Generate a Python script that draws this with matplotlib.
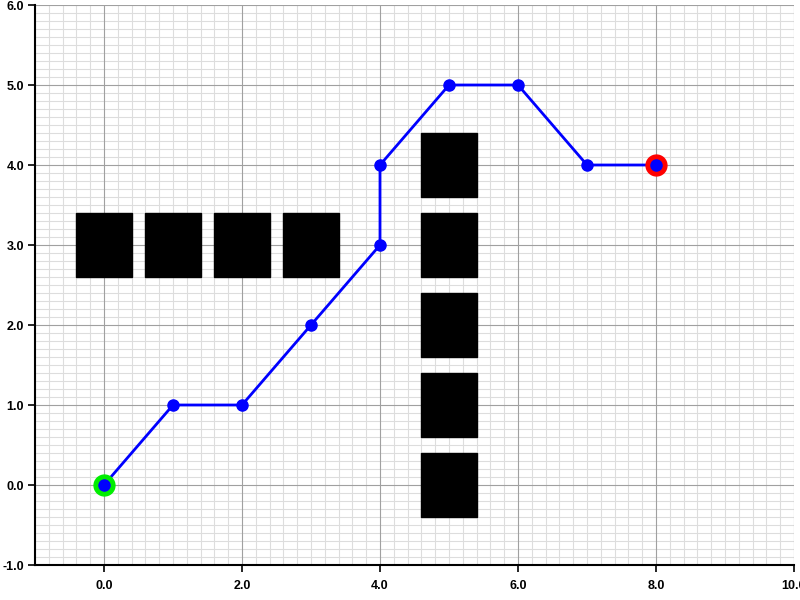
import matplotlib.pyplot as plt
from matplotlib.patches import Rectangle
from matplotlib.ticker import MultipleLocator

plt.rcParams['font.family'] = ['Liberation Sans', 'DejaVu Sans']
plt.rcParams['axes.unicode_minus'] = False

# obstacle centres (each cell 0.8 x 0.8)
obs_x = [0, 1, 2, 3, 5, 5, 5, 5, 5]
obs_y = [3, 3, 3, 3, 0, 1, 2, 3, 4]

# planned path
path_x = [0, 1, 2, 3, 4, 4, 5, 6, 7, 8]
path_y = [0, 1, 1, 2, 3, 4, 5, 5, 4, 4]

start = (0, 0)
goal = (8, 4)

fig = plt.figure(figsize=(8, 6), dpi=100)
ax = fig.add_axes([35 / 800, 35 / 600, 759 / 800, 560 / 600])

for cx, cy in zip(obs_x, obs_y):
    ax.add_patch(Rectangle((cx - 0.4, cy - 0.4), 0.8, 0.8, color='black', zorder=2))

ax.plot(path_x, path_y, color='blue', linewidth=2, zorder=3)
ax.plot(*start, 'o', color='#00ee00', markersize=15, zorder=4)
ax.plot(*goal, 'o', color='red', markersize=15, zorder=4)
ax.plot(path_x, path_y, 'o', color='blue', markersize=8, linestyle='none', zorder=5)

ax.set_xlim(-1, 10)
ax.set_ylim(-1, 6)
ax.xaxis.set_major_locator(MultipleLocator(2))
ax.xaxis.set_minor_locator(MultipleLocator(0.2))
ax.yaxis.set_major_locator(MultipleLocator(1))
ax.yaxis.set_minor_locator(MultipleLocator(0.1))
ax.xaxis.set_major_formatter('{x:.1f}')
ax.yaxis.set_major_formatter('{x:.1f}')

# minor grid from the axis, major grid drawn on top of it
ax.grid(True, which='minor', color='#dddddd', linewidth=0.8)
ax.set_axisbelow(True)
for xv in ax.get_xticks():
    ax.axvline(xv, color='#a0a0a0', linewidth=0.8, zorder=1)
for yv in ax.get_yticks():
    ax.axhline(yv, color='#a0a0a0', linewidth=0.8, zorder=1)
ax.set_xlim(-1, 10)
ax.set_ylim(-1, 6)

ax.tick_params(which='minor', length=0)
ax.tick_params(which='major', length=5, width=1.2, labelsize=9)
ax.tick_params(axis='x', pad=6)
ax.tick_params(axis='y', pad=3)
for lab in ax.get_xticklabels() + ax.get_yticklabels():
    lab.set_fontweight('bold')
ax.spines['top'].set_visible(False)
ax.spines['right'].set_visible(False)
ax.spines['left'].set_linewidth(1.5)
ax.spines['bottom'].set_linewidth(1.5)

fig.savefig('out.png', dpi=100)
